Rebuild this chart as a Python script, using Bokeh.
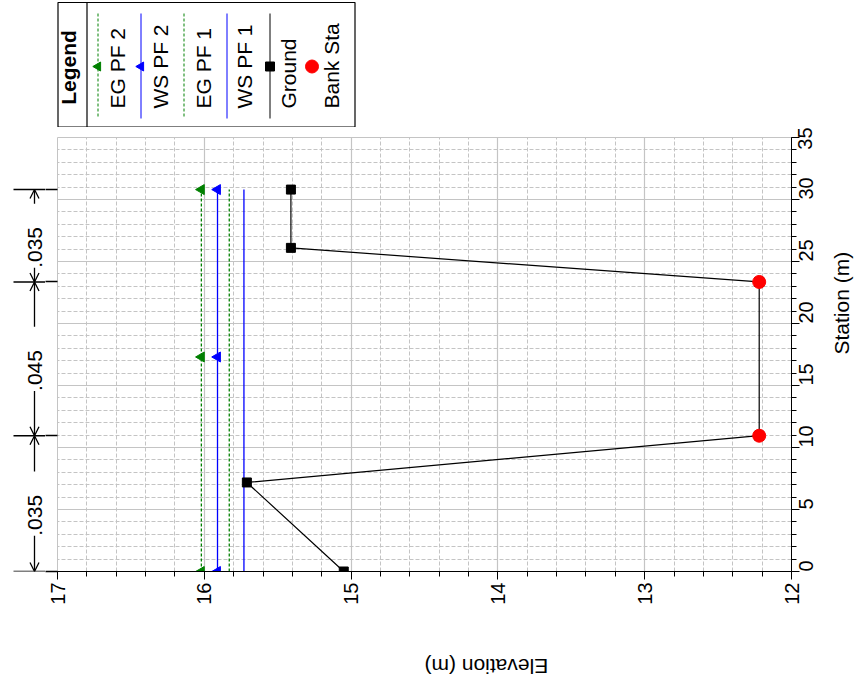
import math
from bokeh.plotting import figure
from bokeh.layouts import column, row
from bokeh.models import (Range1d, SingleIntervalTicker, FixedTicker, LinearAxis, Arrow,
                          OpenHead, Label, CustomJSTickFormatter)
from bokeh.embed import file_html
from bokeh.resources import INLINE
from bokeh.core.properties import value

FONT = "Liberation Sans"

# ---------------- data ----------------
ground_sta = [0.0, 7.18, 10.95, 23.35, 26.1, 30.8]
ground_elev = [15.05, 15.71, 12.22, 12.22, 15.41, 15.41]
bank_sta = [10.95, 23.35]
bank_elev = [12.22, 12.22]
profile_sta = [0.0, 30.8]
marker_sta = [0.0, 17.3, 30.8]
eg_pf2 = 16.02
ws_pf2 = 15.91
eg_pf1 = 15.83
ws_pf1 = 15.73
n_bounds = [0.0, 10.95, 23.35, 30.8]
n_values = [".035", ".045", ".035"]
legend_labels = ["EG PF 2", "WS PF 2", "EG PF 1", "WS PF 1", "Ground", "Bank Sta"]

GREEN = "#008000"
BLUE = "#0000ff"
RED = "#ff0000"
GRID = "#c4c4c4"

# ---------------- layout sizes ----------------
W_LEFT = 45
FRAME_W, FRAME_H = 735, 435
B_LEFT, B_TOP, B_BOT, B_RIGHT = 12, 10, 120, 75
W_MAIN = B_LEFT + FRAME_W + B_RIGHT
H_MAIN = B_TOP + FRAME_H + B_BOT
LEG_W, LEG_H = W_LEFT + W_MAIN, 127

# ---------------- main plot ----------------
main = figure(width=W_MAIN, height=H_MAIN, x_range=Range1d(17, 12), y_range=Range1d(0, 35),
              x_axis_location="below", y_axis_location="right", toolbar_location=None,
              output_backend="svg", min_border_left=B_LEFT, min_border_right=B_RIGHT,
              min_border_top=B_TOP, min_border_bottom=B_BOT)
main.outline_line_color = GRID
main.background_fill_color = "white"
main.border_fill_color = "white"

main.xaxis.ticker = SingleIntervalTicker(interval=1, num_minor_ticks=5)
main.yaxis.ticker = SingleIntervalTicker(interval=5, num_minor_ticks=5)
main.xgrid.ticker = main.xaxis.ticker
main.ygrid.ticker = main.yaxis.ticker
for g in (main.xgrid, main.ygrid):
    g.grid_line_color = GRID
    g.grid_line_width = 1.2
    g.minor_grid_line_color = GRID
    g.minor_grid_line_dash = "4 2"
    g.minor_grid_line_width = 1

for ax in (main.xaxis, main.yaxis):
    ax.major_tick_in = 0
    ax.minor_tick_in = 0
    ax.major_tick_out = 8
    ax.minor_tick_out = 5
    ax.axis_line_color = "black"
    ax.major_tick_line_color = "black"
    ax.minor_tick_line_color = "black"
    ax.major_label_text_font = FONT
    ax.major_label_text_font_size = "20px"
    ax.major_label_text_color = "black"
    ax.axis_label_text_font = FONT
    ax.axis_label_text_font_size = "21px"
    ax.axis_label_text_font_style = "normal"
    ax.axis_label_text_color = "black"
    ax.major_label_orientation = math.pi / 2

main.xaxis.major_label_standoff = 3
main.yaxis.major_label_standoff = 6
main.xaxis.axis_label = "Elevation (m)"
main.xaxis.axis_label_orientation = math.pi
main.xaxis.axis_label_standoff = 59
main.yaxis.axis_label = "Station (m)"
main.yaxis.axis_label_orientation = math.pi / 2
main.yaxis.axis_label_standoff = 19

# stubs of the Manning's n boundary bars (left of the frame), drawn as ticks
stub_axis = LinearAxis(ticker=FixedTicker(ticks=n_bounds), axis_line_color=None,
                       major_tick_in=0, major_tick_out=B_LEFT, major_tick_line_width=1.5,
                       major_tick_line_color="black", minor_tick_line_color=None,
                       formatter=CustomJSTickFormatter(code="return ''"),
                       major_label_standoff=0)
main.add_layout(stub_axis, "left")

# water surfaces / energy grades
main.line([eg_pf2] * 2, profile_sta, line_color=GREEN, line_dash="3 2", line_width=1.3)
main.line([ws_pf2] * 2, profile_sta, line_color=BLUE, line_width=1.3)
main.line([eg_pf1] * 2, profile_sta, line_color=GREEN, line_dash="3 2", line_width=1.3)
main.line([ws_pf1] * 2, profile_sta, line_color=BLUE, line_width=1.3)
main.scatter([eg_pf2] * len(marker_sta), marker_sta, marker="triangle", size=10,
             angle=math.pi / 2, color=GREEN)
main.scatter([ws_pf2] * len(marker_sta), marker_sta, marker="triangle", size=10,
             angle=math.pi / 2, color=BLUE)
# ground
main.line(ground_elev, ground_sta, line_color="black", line_width=1.2)
main.scatter(ground_elev, ground_sta, marker="square", size=9, color="black")
main.scatter(bank_elev, bank_sta, marker="circle", size=13, color=RED)

# ---------------- left: Manning's n ----------------
left = figure(width=W_LEFT, height=H_MAIN, x_range=Range1d(0, W_LEFT), y_range=main.y_range,
              x_axis_location=None, y_axis_location=None, toolbar_location=None,
              output_backend="svg", min_border_left=0, min_border_right=0,
              min_border_top=B_TOP, min_border_bottom=B_BOT)
left.outline_line_color = None
left.xgrid.visible = False
left.ygrid.visible = False
left.segment(x0=13, x1=W_LEFT, y0=n_bounds, y1=n_bounds, line_color="black", line_width=1.5)
XV = 34
for i, nv in enumerate(n_values):
    lo, hi = n_bounds[i], n_bounds[i + 1]
    mid = (lo + hi) / 2
    left.add_layout(Arrow(x_start=XV, y_start=mid, x_end=XV, y_end=lo, line_width=1.3,
                          line_color="black",
                          end=OpenHead(size=9, line_width=1.3, line_color="black")))
    left.add_layout(Arrow(x_start=XV, y_start=mid, x_end=XV, y_end=hi, line_width=1.3,
                          line_color="black",
                          end=OpenHead(size=9, line_width=1.3, line_color="black")))
    left.add_layout(Label(x=XV, y=mid, text="  " + nv + "  ", angle=math.pi / 2,
                          text_align="center", text_baseline="middle",
                          text_font=FONT, text_font_size="21px", text_color="black",
                          background_fill_color="white"))

# ---------------- legend ----------------
leg = figure(width=LEG_W, height=LEG_H, x_range=Range1d(0, LEG_W), y_range=Range1d(0, LEG_H),
             x_axis_location=None, y_axis_location=None, toolbar_location=None,
             output_backend="svg", min_border=0)
leg.outline_line_color = None
leg.xgrid.visible = False
leg.ygrid.visible = False
leg.quad(left=57.5, right=354.5, top=LEG_H - 2, bottom=0.5, fill_color="white",
         line_color="black", line_width=1.2)
leg.segment(x0=86.5, x1=86.5, y0=LEG_H - 2, y1=0.5, line_color="black", line_width=1.2)
leg.text(x=[68], y=[LEG_H - 67], text=["Legend"], angle=math.pi / 2, text_align="center",
         text_baseline="middle", text_font=value(FONT), text_font_size="21px",
         text_font_style="bold", text_color="black")

line_x = [97.5, 140.5, 183.5, 226.5, 269.5]
y_top, y_bot, y_mk = LEG_H - 13, LEG_H - 118, LEG_H - 66
leg.segment(x0=line_x[0], x1=line_x[0], y0=y_top, y1=y_bot, line_color=GREEN, line_dash="3 2")
leg.segment(x0=line_x[1], x1=line_x[1], y0=y_top, y1=y_bot, line_color=BLUE)
leg.segment(x0=line_x[2], x1=line_x[2], y0=y_top, y1=y_bot, line_color=GREEN, line_dash="3 2")
leg.segment(x0=line_x[3], x1=line_x[3], y0=y_top, y1=y_bot, line_color=BLUE)
leg.segment(x0=line_x[4], x1=line_x[4], y0=y_top, y1=y_bot, line_color="black")
leg.scatter([line_x[0]], [y_mk], marker="triangle", size=9, angle=math.pi / 2, color=GREEN)
leg.scatter([line_x[1]], [y_mk], marker="triangle", size=9, angle=math.pi / 2, color=BLUE)
leg.scatter([line_x[4]], [y_mk], marker="square", size=9, color="black")
leg.scatter([311.5], [y_mk], marker="circle", size=13, color=RED)

text_x = [117, 159.5, 202.5, 244, 287.5, 330.5]
leg.text(x=text_x, y=[LEG_H - 108] * len(text_x), text=legend_labels, angle=math.pi / 2,
         text_align="left", text_baseline="middle", text_font=value(FONT),
         text_font_size="21px", text_color="black")

layout = column(leg, row(left, main, spacing=0), spacing=0)
open("out.html", "w").write(file_html(layout, INLINE))
